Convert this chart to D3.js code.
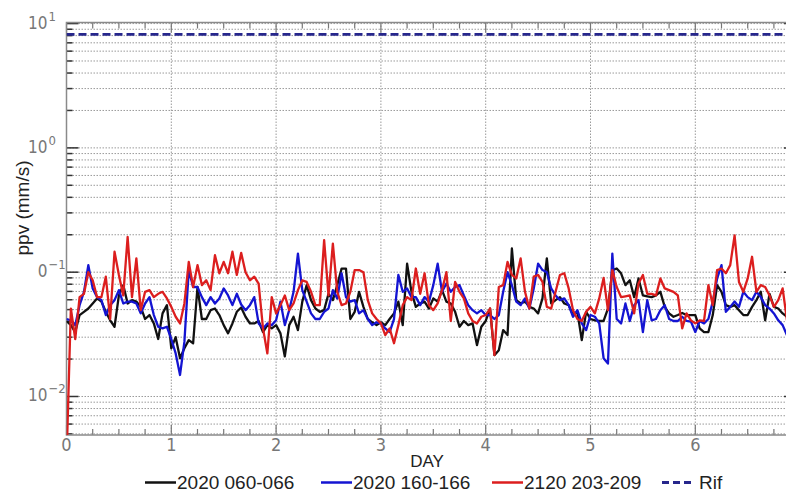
<!DOCTYPE html>
<html>
<head>
<meta charset="utf-8">
<script src="https://cdn.jsdelivr.net/npm/d3@7"></script>
<style>
  html, body { margin: 0; padding: 0; background: #fff; }
  svg { display: block; }
</style>
</head>
<body>
<svg id="chart" width="786" height="493"></svg>
<script>
// ---------------- DATA ----------------
const seriesNames = ["2020 060-066", "2020 160-166", "2120 203-209"];
const sampleStepDays = 1 / 24; // one sample per hour

const black = [
  0.0405,0.0375,0.033,0.0452,0.048,0.051,0.056,0.0615,0.058,0.048,
  0.041,0.0364,0.065,0.0787,0.056,0.0596,0.058,0.0526,0.042,0.0452,
  0.0387,0.029,0.0466,0.0543,0.0244,0.030,0.0203,0.0244,0.0284,0.0268,
  0.076,0.042,0.042,0.0495,0.051,0.0452,0.0375,0.0322,0.0387,0.048,
  0.052,0.0438,0.0387,0.0387,0.0405,0.033,0.0375,0.0353,0.0375,0.0322,
  0.021,0.0375,0.0438,0.0342,0.058,0.0787,0.0596,0.051,0.048,0.0495,
  0.067,0.0596,0.0787,0.107,0.107,0.042,0.048,0.0695,0.0526,0.042,
  0.0395,0.0375,0.0395,0.0375,0.042,0.0466,0.058,0.0375,0.117,0.0695,
  0.0526,0.056,0.058,0.051,0.0615,0.058,0.0717,0.058,0.056,0.048,
  0.0364,0.0405,0.0375,0.0387,0.0259,0.0364,0.0405,0.051,0.0215,0.0236,
  0.0342,0.0312,0.155,0.0596,0.056,0.058,0.0526,0.051,0.0466,0.0615,
  0.129,0.056,0.0596,0.063,0.056,0.0543,0.0452,0.048,0.0284,0.048,
  0.042,0.041,0.0405,0.0405,0.051,0.104,0.107,0.098,0.0787,0.086,
  0.063,0.089,0.065,0.064,0.063,0.065,0.0695,0.0526,0.0466,0.0438,
  0.0452,0.047,0.0452,0.0452,0.0452,0.0353,0.033,0.033,0.0452,0.0787,
  0.0695,0.0543,0.0526,0.0543,0.0495,0.0452,0.0452,0.0526,0.0596,0.0695,
  0.041,0.067,0.0526,0.051,0.0466,0.0438
];
const blue = [
  0.042,0.041,0.0375,0.0543,0.0695,0.114,0.074,0.063,0.0596,0.0452,
  0.0543,0.0596,0.0717,0.056,0.058,0.058,0.056,0.0466,0.056,0.063,
  0.0452,0.0364,0.0353,0.0364,0.029,0.0222,0.0149,0.0275,0.104,0.076,
  0.076,0.063,0.0543,0.063,0.056,0.0615,0.074,0.065,0.0543,0.067,
  0.055,0.0495,0.0543,0.063,0.0387,0.0353,0.0387,0.0375,0.041,0.058,
  0.0375,0.0495,0.0695,0.141,0.0717,0.058,0.0466,0.042,0.042,0.048,
  0.051,0.0717,0.0615,0.098,0.063,0.058,0.0596,0.0466,0.0495,0.042,
  0.0375,0.0395,0.0387,0.0353,0.033,0.042,0.095,0.0695,0.074,0.063,
  0.063,0.0543,0.063,0.058,0.0787,0.117,0.0695,0.081,0.0695,0.076,
  0.0787,0.065,0.0543,0.0495,0.0466,0.0495,0.0452,0.0452,0.042,0.0452,
  0.0695,0.10,0.0787,0.058,0.0543,0.0615,0.051,0.074,0.117,0.104,
  0.10,0.074,0.065,0.0596,0.0615,0.0543,0.0438,0.0495,0.0387,0.0342,
  0.0452,0.0438,0.0387,0.0203,0.0184,0.141,0.042,0.0387,0.056,0.0405,
  0.0543,0.0596,0.033,0.0596,0.041,0.042,0.0495,0.0543,0.042,0.0405,
  0.0405,0.0438,0.0405,0.040,0.033,0.0405,0.0387,0.042,0.058,0.089,
  0.114,0.048,0.0526,0.058,0.0526,0.0695,0.063,0.0596,0.0695,0.063,
  0.0543,0.051,0.0466,0.041,0.0375,0.031
];
const red = [
  0.003,0.051,0.029,0.063,0.067,0.10,0.086,0.063,0.063,0.092,
  0.042,0.146,0.095,0.065,0.192,0.063,0.129,0.0495,0.0695,0.0717,
  0.063,0.067,0.0695,0.0615,0.0526,0.0438,0.0387,0.056,0.121,0.076,
  0.114,0.0787,0.086,0.0717,0.137,0.098,0.121,0.098,0.146,0.095,
  0.143,0.10,0.086,0.092,0.081,0.0353,0.0222,0.063,0.0466,0.0543,
  0.065,0.0495,0.056,0.0717,0.086,0.0835,0.0695,0.0543,0.0543,0.181,
  0.065,0.17,0.0695,0.0543,0.056,0.0695,0.104,0.104,0.10,0.0596,
  0.0466,0.042,0.0387,0.0312,0.0353,0.0268,0.0375,0.0543,0.063,0.0596,
  0.107,0.067,0.098,0.0543,0.0495,0.056,0.0717,0.10,0.0405,0.0835,
  0.0695,0.0615,0.0466,0.0405,0.0387,0.0438,0.0452,0.051,0.0215,0.076,
  0.0787,0.121,0.095,0.089,0.129,0.0695,0.051,0.092,0.095,0.0835,
  0.0526,0.051,0.0695,0.095,0.098,0.074,0.0495,0.042,0.0405,0.048,
  0.0526,0.0466,0.0615,0.09,0.0495,0.104,0.076,0.063,0.064,0.065,
  0.0466,0.081,0.095,0.067,0.067,0.065,0.089,0.074,0.0717,0.0695,
  0.065,0.0353,0.0466,0.041,0.0387,0.041,0.0405,0.0787,0.0543,0.104,
  0.107,0.098,0.114,0.198,0.0835,0.0695,0.089,0.133,0.0695,0.0787,
  0.076,0.065,0.0526,0.0596,0.074,0.041
];
const rifName = "Rif";
const rifValue = 8.2;

const xTickValues = [0, 1, 2, 3, 4, 5, 6];
const xTickLabels = ["0", "1", "2", "3", "4", "5", "6"];
const yTickValues = [10, 1, 0.1, 0.01];
const yTickBase = ["10", "10", "0", "10"];
const yTickExp = ["1", "0", "\u22121", "\u22122"];
const xLabel = "DAY";
const yLabel = "ppv (mm/s)";

// ---------------- LAYOUT ----------------
const L = 66.5, R = 796, T = 22.5, B = 435;
const svg = d3.select("#chart");
const x = d3.scaleLinear().domain([0, (R - L) / 104.8]).range([L, R]);
const y = d3.scaleLog().domain([0.0049, 10.2]).range([B, T]);

const narrow = "'Liberation Sans Narrow','DejaVu Sans Condensed','Liberation Sans',Arial,sans-serif";
const sans = "'Liberation Sans',Arial,Helvetica,sans-serif";

// grid
const gridVals = y.ticks().filter(v => v >= 0.0049 && v <= 10.2);
const g = svg.append("g");
g.selectAll("line.hg").data(gridVals).join("line")
  .attr("x1", L).attr("x2", R)
  .attr("y1", d => y(d)).attr("y2", d => y(d))
  .attr("stroke", "#9a9a9a").attr("stroke-width", 1)
  .attr("stroke-dasharray", "1.5,1.5");
g.selectAll("line.vg").data(xTickValues.filter(d => d > 0)).join("line")
  .attr("x1", d => x(d)).attr("x2", d => x(d))
  .attr("y1", T).attr("y2", B)
  .attr("stroke", "#9a9a9a").attr("stroke-width", 1)
  .attr("stroke-dasharray", "1.5,1.5");

// ticks on y (left & right, inward)
const isMajor = v => Math.abs(Math.log10(v) - Math.round(Math.log10(v))) < 1e-6;
g.selectAll("line.yt").data(gridVals).join("line")
  .attr("x1", L).attr("x2", d => L + (isMajor(d) ? 12 : 6))
  .attr("y1", d => y(d)).attr("y2", d => y(d))
  .attr("stroke", "#333").attr("stroke-width", 1.5);
g.selectAll("line.ytr").data(gridVals).join("line")
  .attr("x1", R).attr("x2", d => R - (isMajor(d) ? 12 : 6))
  .attr("y1", d => y(d)).attr("y2", d => y(d))
  .attr("stroke", "#333").attr("stroke-width", 1.5);

// ticks on x (bottom & top, inward) every quarter day
const xMinor = d3.range(0, 7.01, 0.25);
g.selectAll("line.xtb").data(xMinor).join("line")
  .attr("x1", d => x(d)).attr("x2", d => x(d))
  .attr("y1", B).attr("y2", d => B - (d % 1 === 0 ? 10 : 6))
  .attr("stroke", "#777").attr("stroke-width", 1.2);
g.selectAll("line.xtt").data(xMinor).join("line")
  .attr("x1", d => x(d)).attr("x2", d => x(d))
  .attr("y1", T).attr("y2", d => T + (d % 1 === 0 ? 10 : 6))
  .attr("stroke", "#777").attr("stroke-width", 1.2);

// frame
svg.append("rect").attr("x", L).attr("y", T).attr("width", R - L).attr("height", B - T)
  .attr("fill", "none").attr("stroke", "#8a8a8a").attr("stroke-width", 1.5);

// clip
svg.append("clipPath").attr("id", "clip").append("rect")
  .attr("x", L).attr("y", T).attr("width", R - L).attr("height", B - T);

const plot = svg.append("g").attr("clip-path", "url(#clip)");

// Rif dashed line
plot.append("line")
  .attr("x1", L).attr("x2", R).attr("y1", y(rifValue)).attr("y2", y(rifValue))
  .attr("stroke", "#26268c").attr("stroke-width", 2.8)
  .attr("stroke-dasharray", "8,4");

const line = d3.line().x((d, i) => x(i * sampleStepDays)).y(d => y(d));
const colors = ["#111111", "#1414d2", "#dc1e1e"];
[black, blue, red].forEach((s, k) => {
  plot.append("path").datum(s).attr("d", line)
    .attr("fill", "none").attr("stroke", colors[k])
    .attr("stroke-width", 2.3).attr("stroke-linejoin", "round");
});

// x tick labels
svg.selectAll("text.xl").data(xTickValues).join("text")
  .attr("x", d => x(d)).attr("y", 451)
  .attr("text-anchor", "middle")
  .attr("font-family", narrow).attr("font-size", 18).attr("fill", "#777")
  .text((d, i) => xTickLabels[i]);

// y tick labels
yTickValues.forEach((v, i) => {
  svg.append("text").attr("x", 47.5).attr("y", y(v) + 5)
    .attr("text-anchor", "end")
    .attr("font-family", narrow).attr("font-size", 17).attr("fill", "#777")
    .text(yTickBase[i]);
  svg.append("text").attr("x", 48.5).attr("y", y(v) - 3)
    .attr("text-anchor", "start")
    .attr("font-family", narrow).attr("font-size", 13).attr("fill", "#777")
    .text(yTickExp[i]);
});

// axis titles
svg.append("text").attr("x", 427).attr("y", 467).attr("text-anchor", "middle")
  .attr("font-family", sans).attr("font-size", 17).attr("fill", "#222").text(xLabel);
svg.append("text").attr("transform", "translate(29,208) rotate(-90)")
  .attr("text-anchor", "middle")
  .attr("font-family", sans).attr("font-size", 19).attr("fill", "#222").text(yLabel);

// legend
const legX = [145, 321, 492, 662];
const legLen = 31;
const legY = 482.5;
seriesNames.forEach((n, i) => {
  svg.append("line").attr("x1", legX[i]).attr("x2", legX[i] + legLen)
    .attr("y1", legY).attr("y2", legY)
    .attr("stroke", colors[i]).attr("stroke-width", 2.5);
  svg.append("text").attr("x", legX[i] + legLen + 1).attr("y", legY + 6.5)
    .attr("font-family", sans).attr("font-size", 19).attr("fill", "#222").text(n);
});
svg.append("line").attr("x1", legX[3]).attr("x2", legX[3] + legLen)
  .attr("y1", legY).attr("y2", legY)
  .attr("stroke", "#26268c").attr("stroke-width", 2.8).attr("stroke-dasharray", "7,4");
svg.append("text").attr("x", legX[3] + legLen + 6).attr("y", legY + 6.5)
  .attr("font-family", sans).attr("font-size", 19).attr("fill", "#222").text(rifName);
</script>
</body>
</html>
